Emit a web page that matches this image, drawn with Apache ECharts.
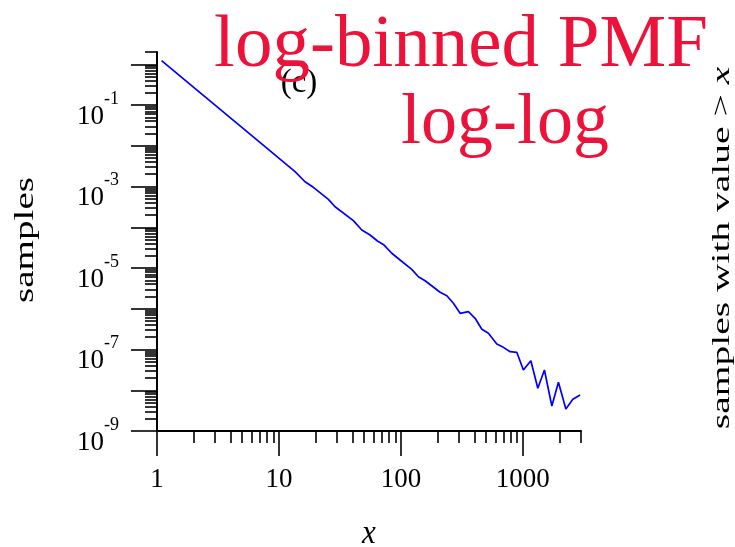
<!DOCTYPE html>
<html>
<head>
<meta charset="utf-8">
<script src="https://cdn.jsdelivr.net/npm/echarts@6/dist/echarts.min.js"></script>
<style>
  html, body { margin: 0; padding: 0; background: #fff; }
  #chart { width: 735px; height: 547px; }
</style>
</head>
<body>
<div id="chart"></div>
<script>
// Log-binned probability mass function (bin centre, probability)
const binX = [1.09, 2.0, 4.0, 8.0, 13.55, 16.37, 19.15, 25.43, 28.86, 40.76, 47.8, 55.9,
  64.2, 72.8, 84.2, 98.5, 122.8, 139.2, 158.0, 209.7, 238.2, 269.6, 306.0, 357.9,
  406.2, 461.2, 522.2, 611.9, 693.2, 787.0, 892.7, 1011, 1164, 1327, 1504, 1730,
  1959, 2254, 2572, 2951];
const binPmf = [1.222, 0.272, 0.0483, 8.6e-3, 2.31e-3, 1.31e-3, 9.55e-4, 4.85e-4, 3.19e-4,
  1.45e-4, 8.57e-5, 6.46e-5, 4.60e-5, 3.66e-5, 2.30e-5, 1.57e-5, 9.29e-6, 6.12e-6,
  4.88e-6, 2.54e-6, 2.09e-6, 1.36e-6, 7.73e-7, 8.47e-7, 5.83e-7, 3.13e-7, 2.50e-7,
  1.36e-7, 1.13e-7, 8.83e-8, 8.53e-8, 3.14e-8, 5.31e-8, 1.12e-8, 3.14e-8, 4.10e-9,
  1.57e-8, 3.47e-9, 6.00e-9, 7.63e-9];

// Axis ranges and tick positions
const xRange = [1, 3000];
const yRange = [1e-9, 2];
const xMajorTicks = [1, 10, 100, 1000];
const xTickLabels = [1, 10, 100, 1000];
const xMinorTicks = [2, 3, 4, 5, 6, 7, 8, 9, 20, 30, 40, 50, 60, 70, 80, 90,
  200, 300, 400, 500, 600, 700, 800, 900, 2000, 3000];
const yMajorTicks = [1e-9, 1e-8, 1e-7, 1e-6, 1e-5, 1e-4, 1e-3, 1e-2, 1e-1, 1];
const yTickLabels = [1e-9, 1e-7, 1e-5, 1e-3, 1e-1];
const yMinorTicks = [];
for (let k = -9; k <= 0; k++) {
  for (let m = 2; m <= 9; m++) {
    const v = Number((m * Math.pow(10, k)).toPrecision(3));
    if (v <= yRange[1]) yMinorTicks.push(v);
  }
}

const SERIF = 'Liberation Serif';
const ink = '#000';
const titleRed = '#ec1239';

const chart = echarts.init(document.getElementById('chart'), null, { renderer: 'canvas' });

const baseX = {
  type: 'log', logBase: 10, gridIndex: 0, min: xRange[0], max: xRange[1],
  position: 'bottom', splitLine: { show: false }
};
const baseY = {
  type: 'log', logBase: 10, gridIndex: 0, min: yRange[0], max: yRange[1],
  position: 'left', splitLine: { show: false }
};

chart.setOption({
  animation: false,
  backgroundColor: '#fff',
  grid: { left: 157, top: 52, width: 424, height: 379, containLabel: false, outerBoundsMode: 'none' },
  xAxis: [
    Object.assign({}, baseX, {
      axisLine: { show: true, lineStyle: { color: ink, width: 2 } },
      axisTick: { show: true, length: 25, lineStyle: { color: ink, width: 1.6 }, customValues: xMajorTicks },
      axisLabel: {
        show: true, customValues: xTickLabels, margin: 35,
        fontFamily: SERIF, fontSize: 27, color: ink,
        formatter: v => String(Math.round(v))
      }
    }),
    Object.assign({}, baseX, {
      axisLine: { show: false },
      axisTick: { show: true, length: 12, lineStyle: { color: ink, width: 1.6 }, customValues: xMinorTicks },
      axisLabel: { show: false }
    })
  ],
  yAxis: [
    Object.assign({}, baseY, {
      axisLine: { show: true, lineStyle: { color: ink, width: 2 } },
      axisTick: { show: true, length: 26, lineStyle: { color: ink, width: 1.6 }, customValues: yMajorTicks },
      axisLabel: {
        show: true, customValues: yTickLabels, margin: 38,
        padding: [10, 0, 0, 0],
        formatter: v => '{b|10}{e|' + Math.round(Math.log10(v)) + '}',
        rich: {
          b: { fontFamily: SERIF, fontSize: 27, color: ink, lineHeight: 40, verticalAlign: 'bottom' },
          e: { fontFamily: SERIF, fontSize: 18, color: ink, lineHeight: 16, verticalAlign: 'top' }
        }
      }
    }),
    Object.assign({}, baseY, {
      axisLine: { show: false },
      axisTick: { show: true, length: 12, lineStyle: { color: ink, width: 1.6 }, customValues: yMinorTicks },
      axisLabel: { show: false }
    })
  ],
  series: [{
    type: 'line',
    xAxisIndex: 0, yAxisIndex: 0,
    data: binX.map((x, i) => [x, binPmf[i]]),
    showSymbol: false,
    symbol: 'none',
    lineStyle: { color: '#0000ff', width: 1.7 },
    z: 3
  }],
  graphic: [
    {
      type: 'text', x: 299, y: 83, z: 10,
      style: { text: '(c)', font: '33px "' + SERIF + '"', fill: ink, align: 'center', verticalAlign: 'middle' }
    },
    {
      type: 'text', x: 461, y: 46, z: 20,
      style: { text: 'log-binned PMF', font: '75px "' + SERIF + '"', fill: titleRed, align: 'center', verticalAlign: 'middle' }
    },
    {
      type: 'text', x: 505, y: 124, z: 20,
      style: { text: 'log-log', font: '72px "' + SERIF + '"', fill: titleRed, align: 'center', verticalAlign: 'middle' }
    },
    {
      type: 'text', x: 26, y: 240, rotation: Math.PI / 2, scaleX: 1.45, scaleY: 1, z: 10,
      style: { text: 'samples', font: '27px "' + SERIF + '"', fill: ink, align: 'center', verticalAlign: 'middle' }
    },
    {
      type: 'text', x: 369, y: 534, scaleX: 1, scaleY: 1.12, z: 10,
      style: { text: 'x', font: 'italic 31px "' + SERIF + '"', fill: ink, align: 'center', verticalAlign: 'middle' }
    },
    {
      type: 'text', x: 722, y: 248, rotation: Math.PI / 2, scaleX: 1.58, scaleY: 1, z: 10,
      style: {
        text: '{n|samples with value > }{i|x}',
        align: 'center', verticalAlign: 'middle',
        rich: {
          n: { fontFamily: SERIF, fontSize: 25, color: ink },
          i: { fontFamily: SERIF, fontSize: 25, fontStyle: 'italic', color: ink }
        }
      }
    }
  ]
});
</script>
</body>
</html>
